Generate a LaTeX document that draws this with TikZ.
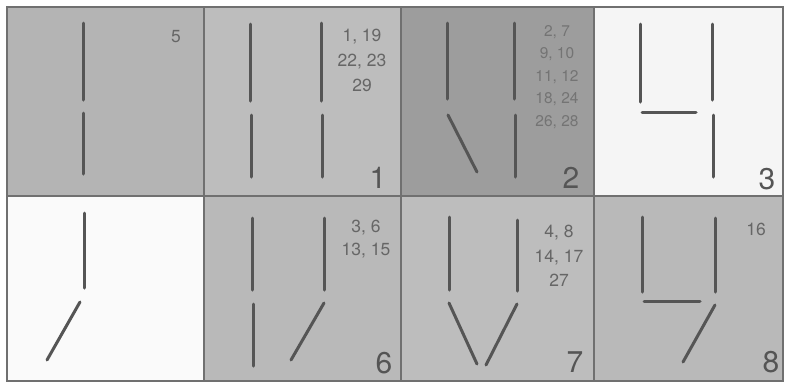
\documentclass[tikz,border=0pt]{standalone}
\usepackage{fontspec}
\setmainfont{TeX Gyre Heros}
\definecolor{frame}{HTML}{707070}
\definecolor{ink}{HTML}{555555}
\definecolor{numgray}{HTML}{666666}
\definecolor{gA}{HTML}{B4B4B4}
\definecolor{gB}{HTML}{BDBDBD}
\definecolor{gC}{HTML}{9D9D9D}
\definecolor{gD}{HTML}{F5F5F5}
\definecolor{gE}{HTML}{FAFAFA}
\definecolor{gF}{HTML}{B9B9B9}

\begin{document}
\begin{tikzpicture}[x=1pt, y=-1pt,
    cell/.style={draw=frame, line width=1.6pt},
    stroke/.style={draw=ink, line width=3pt, line cap=round},
    nums/.style={font=\fontsize{17.5}{24}\selectfont, text=numgray,
                 align=center, inner sep=0pt},
    big/.style={font=\fontsize{30}{30}\selectfont, text=ink, inner sep=0pt},
  ]
  \useasboundingbox[fill=white] (0,0) rectangle (785,384);

  \filldraw[cell, fill=gA] (7,7) rectangle (204,196);
  \filldraw[cell, fill=gB] (204,7) rectangle (401,196);
  \filldraw[cell, fill=gC] (401,7) rectangle (594,196);
  \filldraw[cell, fill=gD] (594,7) rectangle (783,196);
  \filldraw[cell, fill=gE] (7,196) rectangle (204,381);
  \filldraw[cell, fill=gF] (204,196) rectangle (401,381);
  \filldraw[cell, fill=gB] (401,196) rectangle (594,381);
  \filldraw[cell, fill=gF] (594,196) rectangle (783,381);

  \draw[stroke] (83,23) -- (83,100);
  \draw[stroke] (83,113) -- (83,174);
  \node[nums] (n5) at (176,37) {5};

  \draw[stroke] (250,24) -- (250,101);
  \draw[stroke] (251,115) -- (251,177);
  \draw[stroke] (321,23) -- (321,101);
  \draw[stroke] (322,115) -- (322,177);
  \node[nums, font=\fontsize{17.5}{25}\selectfont] (n1) at (362,60) {1, 19\\22, 23\\29};
  \node[big] (b1) at (378,178) {1};

  \draw[stroke] (447,23) -- (447,99);
  \draw[stroke] (448,115) -- (477,172);
  \draw[stroke] (514,23) -- (514,99);
  \draw[stroke] (515,115) -- (515,177);
  \node[nums, font=\fontsize{15.5}{22.5}\selectfont, text=numgray!75!gC] (n2) at (557,77)
    {2, 7\\9, 10\\11, 12\\18, 24\\26, 28};
  \node[big] (b2) at (571,178) {2};

  \draw[stroke] (640,24) -- (640,102);
  \draw[stroke] (642,112) -- (696,112);
  \draw[stroke] (712,24) -- (712,100);
  \draw[stroke] (713,115) -- (713,177);
  \node[big] (b3) at (767,179) {3};

  \draw[stroke] (84,213) -- (84,288);
  \draw[stroke] (80,302) -- (47,360);

  \draw[stroke] (252,218) -- (252,290);
  \draw[stroke] (253,304) -- (253,366);
  \draw[stroke] (324,218) -- (324,290);
  \draw[stroke] (324,303) -- (291,360);
  \node[nums, font=\fontsize{17.5}{22.5}\selectfont] (n6) at (366,239) {3, 6\\13, 15};
  \node[big] (b6) at (384,363) {6};

  \draw[stroke] (449,217) -- (449,290);
  \draw[stroke] (449,303) -- (477,364);
  \draw[stroke] (517,220) -- (517,291);
  \draw[stroke] (517,304) -- (486,365);
  \node[nums, font=\fontsize{17.5}{24.5}\selectfont] (n7) at (559,256) {4, 8\\14, 17\\27};
  \node[big] (b7) at (575,362) {7};

  \draw[stroke] (642,217) -- (642,292);
  \draw[stroke] (644,301) -- (700,301);
  \draw[stroke] (715,218) -- (715,292);
  \draw[stroke] (715,305) -- (683,362);
  \node[nums] (n8) at (756,229) {16};
  \node[big] (b8) at (771,362) {8};
\end{tikzpicture}
\end{document}
